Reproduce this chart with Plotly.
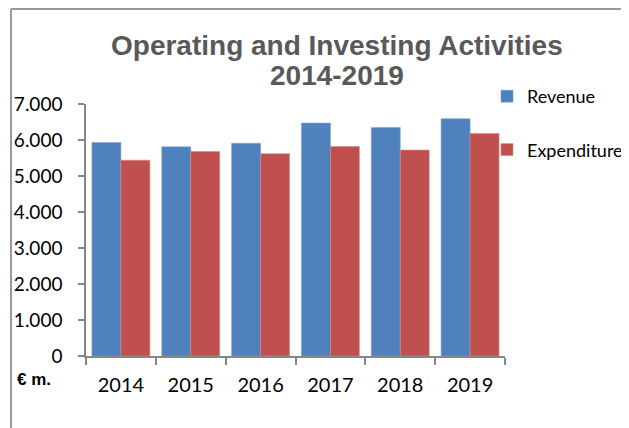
import plotly.graph_objects as go

years = ["2014", "2015", "2016", "2017", "2018", "2019"]
revenue = [5930, 5810, 5910, 6470, 6350, 6590]
expenditure = [5440, 5680, 5620, 5820, 5720, 6180]
y_ticks = [0, 1000, 2000, 3000, 4000, 5000, 6000, 7000]

# the page body has an 8px margin, so work in (reference px - 8)
OFF = 8
W, H = 629 - OFF, 428 - OFF
L, T = 86 - OFF, 104 - OFF
Rr, Bb = 505 - OFF, 356 - OFF
R, B = W - Rr, H - Bb
pw, ph = Rr - L, Bb - T

def px_x(p):
    return (p - OFF - L) / pw

def px_y(p):
    return (Bb - (p - OFF)) / ph

fig = go.Figure()
fig.add_trace(go.Bar(name="Revenue", x=years, y=revenue, marker_color="#4F81BD",
                     marker_line=dict(color="#7FA3D3", width=0.6), legendgroup="a"))
fig.add_trace(go.Bar(name="Expenditure", x=years, y=expenditure, marker_color="#C0504D",
                     marker_line=dict(color="#D98A88", width=0.6), legendgroup="b"))

font_family = "Lato, Liberation Sans, sans-serif"
legend_font = dict(family=font_family, size=18, color="#000000")
title_font = dict(family="Liberation Sans, Arial, sans-serif", size=28, color="#595959")

fig.update_layout(
    width=W, height=H,
    margin=dict(l=L, r=R, t=T, b=B, autoexpand=False),
    paper_bgcolor="white", plot_bgcolor="white",
    separators=",.",
    barmode="group", bargap=0.17, bargroupgap=0,
    legend=dict(x=px_x(487), xanchor="left", y=px_y(78), yanchor="top",
                font=legend_font, tracegroupgap=27, bgcolor="rgba(0,0,0,0)"),
    xaxis=dict(showline=True, linecolor="#868686", linewidth=1.5, ticks="outside",
               tickson="boundaries", ticklen=7, tickcolor="#868686", tickwidth=1.5,
               tickfont=dict(family=font_family, size=20, color="#000000"),
               ticklabelstandoff=10, showgrid=False, automargin=False),
    yaxis=dict(range=[0, 7000], tickvals=y_ticks, tickformat=",d", showline=True,
               linecolor="#868686", linewidth=1.5, ticks="outside", ticklen=6,
               tickcolor="#868686", tickwidth=1.5,
               tickfont=dict(family=font_family, size=19, color="#000000"),
               ticklabelstandoff=12, showgrid=False, zeroline=False, automargin=False),
    annotations=[
        dict(text="<b>Operating and Investing Activities</b>", xref="paper", yref="paper",
             x=px_x(337), y=px_y(46), xanchor="center", yanchor="middle",
             showarrow=False, font=title_font),
        dict(text="<b>2014-2019</b>", xref="paper", yref="paper",
             x=px_x(337), y=px_y(76), xanchor="center", yanchor="middle",
             showarrow=False, font=title_font),
        dict(text="<b>€ m.</b>", xref="paper", yref="paper",
             x=px_x(15), y=px_y(379), xanchor="left", yanchor="middle",
             showarrow=False,
             font=dict(family="Liberation Sans, Arial, sans-serif", size=17, color="#000000")),
    ],
    shapes=[
        dict(type="line", xref="paper", yref="paper", x0=px_x(11), x1=px_x(11),
             y0=px_y(9), y1=px_y(440), line=dict(color="#9A9A9A", width=2)),
        dict(type="line", xref="paper", yref="paper", x0=px_x(11), x1=px_x(640),
             y0=px_y(9), y1=px_y(9), line=dict(color="#9A9A9A", width=2)),
    ],
)

fig.write_html("out.html")
